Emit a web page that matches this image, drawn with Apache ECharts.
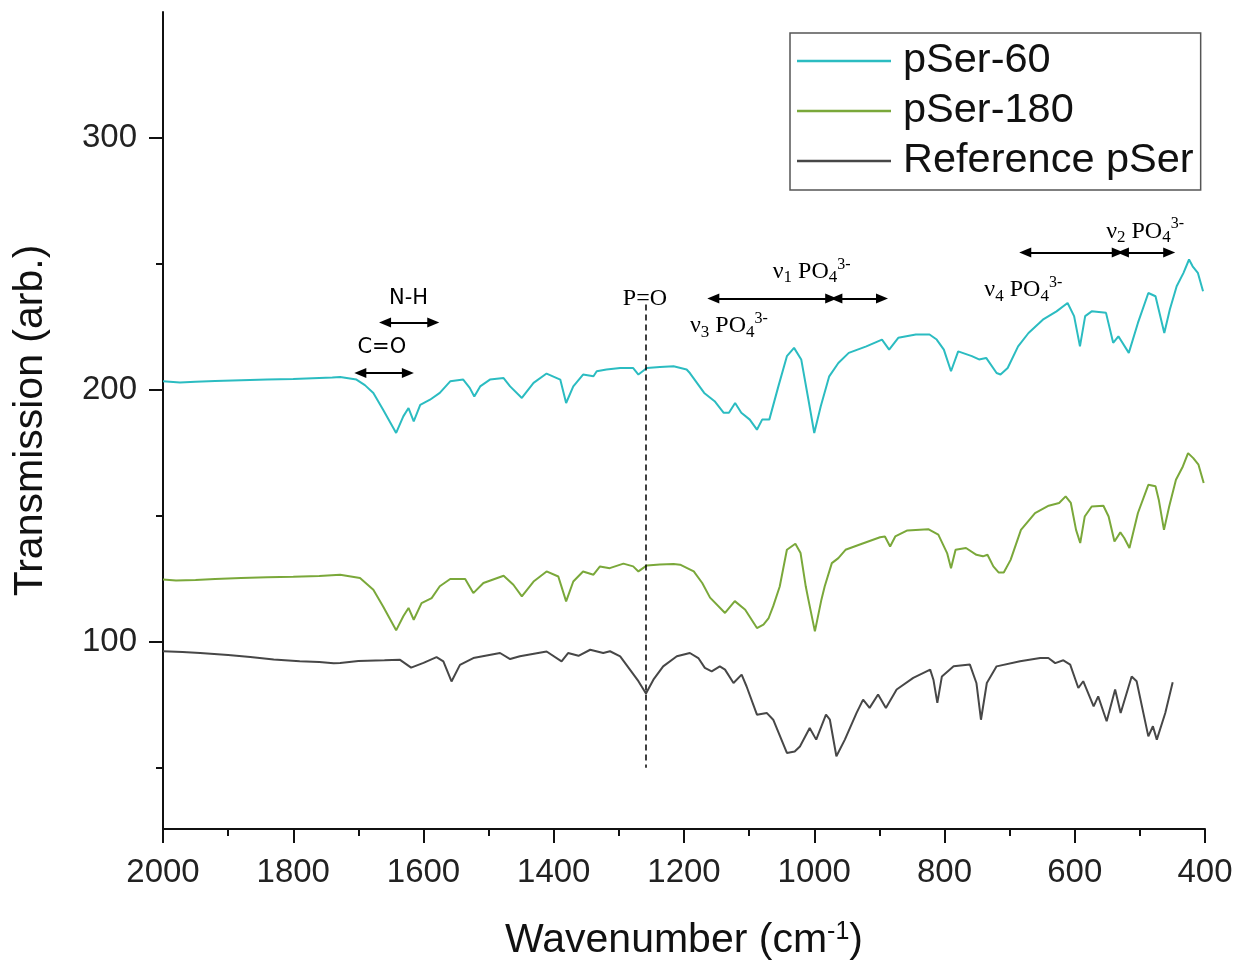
<!DOCTYPE html>
<html>
<head>
<meta charset="utf-8">
<title>FTIR pSer</title>
<script src="https://cdn.jsdelivr.net/npm/echarts@6/dist/echarts.min.js"></script>
<style>
  html, body { margin: 0; padding: 0; background: #fff; }
  #chart { width: 1243px; height: 962px; }
</style>
</head>
<body>
<div id="chart"></div>
<script>
// spectra: [wavenumber (cm-1), transmission (arb.)]
const pSer60 = [
  [2000, 203.3], [1974, 202.8], [1950, 203.1], [1920, 203.4], [1880, 203.7], [1840, 204.0],
  [1800, 204.2], [1760, 204.6], [1740, 204.8], [1728, 205.0], [1703, 204.0], [1690, 201.8],
  [1677, 198.7], [1662, 192.0], [1642, 182.8], [1631, 189.4], [1623, 192.7], [1615, 187.4],
  [1605, 194.0], [1590, 196.0], [1575, 198.7], [1559, 203.3], [1539, 204.0], [1529, 200.7],
  [1522, 197.3], [1513, 201.3], [1498, 204.0], [1477, 204.6], [1467, 201.3], [1449, 196.7],
  [1431, 202.7], [1411, 206.4], [1390, 204.0], [1381, 194.7], [1370, 201.3], [1355, 206.0],
  [1339, 205.3], [1334, 207.3], [1319, 208.0], [1298, 208.6], [1278, 208.6], [1270, 206.0],
  [1257, 208.6], [1237, 209.0], [1216, 209.3], [1196, 208.0], [1191, 206.6], [1169, 198.7],
  [1153, 195.4], [1139, 190.8], [1131, 190.8], [1121.5, 194.7], [1112, 190.8], [1099, 188.1],
  [1088, 184.1], [1080, 188.1], [1069, 188.1], [1055, 201.4], [1042, 213.3], [1031, 216.6],
  [1020, 212.0], [1009, 196.1], [1000, 182.8], [990, 193.4], [977, 205.3], [963, 210.6],
  [947, 214.6], [920, 217.2], [896, 219.9], [885, 215.9], [871, 220.6], [844, 221.9],
  [823, 221.9], [812, 219.9], [801, 215.9], [790, 207.3], [779, 215.2], [758, 213.3],
  [747, 212.0], [736, 212.6], [720, 206.6], [714, 206.0], [703, 208.6], [687, 217.2],
  [671, 222.5], [649, 227.8], [628, 231.1], [611, 234.4], [601, 229.2], [592, 217.2],
  [584, 229.2], [574, 231.1], [552, 230.5], [541, 218.6], [533, 221.2], [517, 214.6],
  [503, 226.5], [487, 238.4], [476, 237.1], [462.5, 222.5], [454, 231.8], [443.5, 241.1],
  [433, 246.4], [424.5, 251.7], [419, 249.0], [411, 246.4], [403, 239.1]
];

const pSer180 = [
  [2000, 124.6], [1980, 124.2], [1950, 124.4], [1920, 124.8], [1880, 125.2], [1840, 125.5],
  [1800, 125.7], [1760, 126.0], [1728, 126.5], [1697.5, 125.2], [1677, 120.5], [1662, 113.9],
  [1642, 104.4], [1631, 110.0], [1623, 113.3], [1615, 108.6], [1603, 115.2], [1587.5, 117.2],
  [1575, 121.9], [1559, 124.8], [1536, 124.8], [1523.5, 119.2], [1508, 123.2], [1477, 126.1],
  [1462, 122.5], [1449, 117.9], [1431, 123.8], [1411, 127.8], [1393, 125.8], [1381, 115.9],
  [1370, 123.8], [1355, 127.8], [1339, 126.5], [1329, 129.8], [1314, 129.1], [1293, 130.9],
  [1278, 129.8], [1270, 127.8], [1257, 130.2], [1237, 130.6], [1216, 130.8], [1206, 130.5],
  [1185, 127.8], [1172, 123.2], [1160, 117.4], [1137, 111.3], [1122, 116.0], [1106, 112.6],
  [1088, 105.3], [1078, 106.7], [1070, 109.3], [1063, 114.0], [1053, 121.8], [1042, 136.4],
  [1029, 138.8], [1021, 135.1], [1013, 121.8], [1009, 116.6], [999, 104.0], [989, 116.6],
  [984, 121.8], [973, 131.1], [963, 133.1], [952, 136.4], [931, 138.4], [899, 141.4],
  [891.5, 141.7], [883.5, 137.7], [875.6, 141.7], [857, 144.1], [825, 144.6], [809.5, 142.4],
  [796, 135.1], [790, 129.1], [783, 136.4], [767, 137.1], [751, 134.4], [741, 133.8],
  [734, 134.4], [725, 129.8], [717, 127.4], [709, 127.4], [698.5, 132.4], [682.6, 144.3],
  [661, 151.0], [640, 153.9], [624, 155.0], [614, 157.6], [606, 155.0], [598, 144.3],
  [591.6, 139.1], [584.7, 149.6], [574, 153.6], [556, 153.9], [548, 149.6], [539, 139.7],
  [530, 143.3], [524, 141.1], [516, 137.1], [503, 151.0], [487, 162.2], [476, 161.6],
  [471, 156.3], [463, 144.3], [455, 153.6], [444.6, 164.2], [434, 169.5], [426, 174.8],
  [418, 172.8], [410, 170.2], [402, 162.9]
];

const refPSer = [
  [2000, 96.1], [1970, 95.8], [1943, 95.4], [1900, 94.6], [1866, 93.8], [1830, 92.8],
  [1790, 92.1], [1760, 91.8], [1738, 91.3], [1728, 91.4], [1700, 92.2], [1660, 92.5],
  [1636, 92.7], [1619, 89.6], [1600, 91.5], [1580, 93.8], [1569.5, 92.1], [1557, 84.1],
  [1544, 90.7], [1523.5, 93.4], [1482.5, 95.4], [1467, 93.0], [1452, 94.1], [1411, 96.0],
  [1388, 92.1], [1378, 95.4], [1362, 94.3], [1344, 96.7], [1324, 95.4], [1313.6, 96.1],
  [1298, 94.1], [1283, 88.8], [1270, 84.2], [1258.4, 79.3], [1247, 84.8], [1232, 90.1],
  [1211, 94.1], [1191, 95.4], [1178, 93.4], [1168, 89.5], [1157.5, 88.1], [1145, 90.1],
  [1137, 88.8], [1124, 83.5], [1111.5, 86.8], [1104, 82.2], [1088, 70.9], [1073, 71.6],
  [1063, 68.9], [1042, 55.7], [1030, 56.3], [1022, 58.3], [1007, 65.6], [997, 61.0],
  [982, 70.9], [976, 68.9], [966, 54.4], [953, 61.0], [935, 71.6], [925, 76.9],
  [915, 73.6], [902, 78.9], [890, 73.6], [873.5, 80.9], [848, 85.5], [822, 88.8],
  [817, 84.8], [811, 75.6], [804, 86.1], [786, 90.1], [761, 90.8], [751, 83.5],
  [744, 68.9], [735, 83.5], [720, 90.1], [684, 92.1], [653, 93.4], [640.5, 93.4],
  [630, 91.4], [617.5, 92.5], [607, 90.8], [594.5, 81.5], [587, 84.2], [571, 74.2],
  [564, 78.2], [551, 68.3], [538, 80.9], [529.5, 71.6], [512.6, 86.1], [505, 84.2],
  [487, 62.3], [480, 66.3], [474, 61.0], [461, 71.6], [449.6, 83.8]
];

const seriesNames = ["pSer-60", "pSer-180", "Reference pSer"];
const yTickValues = [100, 200, 300];

// band annotations: double arrows [from, to, level] in data units
const bandArrows = [
  [1697, 1624, 206.6],   // C=O
  [1659, 1585, 226.7],   // N-H
  [1155, 974, 236.2],    // v3
  [966, 896, 236.2],     // v1
  [676, 534, 254.5],     // v4
  [526, 455, 254.5]      // v2
];
// P=O marker line: wavenumber, top, bottom
const poLine = [1258, 233.8, 49.8];

// labels: [wavenumber, level, text]
const sansLabels = [
  [1664, 216.9, "C=O"],
  [1623, 236.0, "N-H"]
];
const serifLabels = [
  [1260, 236.2, "P=O"],
  [1131, 225.4, "{n|ν}{sb|3} {n|PO}{sb|4}{sp|3-}"],
  [1004, 247.0, "{n|ν}{sb|1} {n|PO}{sb|4}{sp|3-}"],
  [679, 239.7, "{n|ν}{sb|4} {n|PO}{sb|4}{sp|3-}"],
  [492, 262.9, "{n|ν}{sb|2} {n|PO}{sb|4}{sp|3-}"]
];

const colors = ["#2bbcc1", "#7aa83a", "#474747"];
const SANS = "Liberation Sans, Arial, sans-serif";
const SERIF = "Liberation Serif, Times New Roman, serif";

const chart = echarts.init(document.getElementById("chart"), null, { renderer: "canvas" });

const axisCol = "#111";

const serifRich = {
  n: { fontFamily: SERIF, fontSize: 24, lineHeight: 30, color: "#000" },
  sb: { fontFamily: SERIF, fontSize: 17, lineHeight: 17, verticalAlign: "bottom", color: "#000" },
  sp: { fontFamily: SERIF, fontSize: 16, lineHeight: 16, verticalAlign: "top", color: "#000" }
};

const markLineData = bandArrows.map(([a, b, y]) => [
  { coord: [a, y] },
  { coord: [b, y] }
]);
markLineData.push([
  { coord: [poLine[0], poLine[1]], symbol: "none", lineStyle: { type: [6, 4], width: 1.5, color: "#000" } },
  { coord: [poLine[0], poLine[2]], symbol: "none" }
]);

const markPointData = sansLabels
  .map(([x, y, t]) => ({
    coord: [x, y],
    label: { formatter: t, fontFamily: "DejaVu Sans", fontSize: 21, color: "#000" }
  }))
  .concat(serifLabels.map(([x, y, t]) => ({
    coord: [x, y],
    label: { formatter: t, fontFamily: SERIF, fontSize: 24, color: "#000", rich: serifRich }
  })));

const option = {
  animation: false,
  backgroundColor: "#fff",
  color: colors,
  grid: { left: 163, right: 38, top: 12, bottom: 133, containLabel: false, outerBoundsMode: "none" },
  legend: {
    data: seriesNames,
    orient: "vertical",
    left: 790,
    top: 33,
    padding: [3, 7, 4, 7],
    itemGap: 0,
    itemWidth: 94,
    itemHeight: 2.5,
    icon: "rect",
    borderColor: "#555",
    borderWidth: 1.5,
    textStyle: { fontFamily: SANS, fontSize: 41.5, color: "#111", lineHeight: 50, padding: [0, 0, 0, 7] }
  },
  xAxis: {
    type: "value",
    inverse: true,
    min: 400,
    max: 2000,
    interval: 200,
    name: "Wavenumber (cm{sup|-1})",
    nameLocation: "middle",
    nameGap: 91,
    nameTextStyle: {
      fontFamily: SANS, fontSize: 41, color: "#111",
      rich: { sup: { fontFamily: SANS, fontSize: 25, lineHeight: 25, verticalAlign: "top", color: "#111" } }
    },
    axisLine: { show: true, lineStyle: { color: axisCol, width: 2 } },
    axisTick: { show: true, length: 14, lineStyle: { color: axisCol, width: 2 } },
    minorTick: { show: true, splitNumber: 2, length: 7, lineStyle: { color: axisCol, width: 2 } },
    axisLabel: {
      fontFamily: SANS, fontSize: 33, color: "#222", margin: 27,
      formatter: (v) => String(v)
    },
    splitLine: { show: false }
  },
  yAxis: {
    type: "value",
    min: 25.5,
    max: 350,
    splitNumber: 3,
    minInterval: 100,
    maxInterval: 100,
    name: "Transmission (arb.)",
    nameLocation: "middle",
    nameGap: 112,
    nameTextStyle: { fontFamily: SANS, fontSize: 41, color: "#111" },
    axisLine: { show: true, lineStyle: { color: axisCol, width: 2 } },
    axisTick: { show: true, length: 14, customValues: yTickValues, lineStyle: { color: axisCol, width: 2 } },
    minorTick: { show: true, splitNumber: 2, length: 7, lineStyle: { color: axisCol, width: 2 } },
    axisLabel: { fontFamily: SANS, fontSize: 33, color: "#222", margin: 26, customValues: yTickValues },
    splitLine: { show: false }
  },
  series: [
    {
      name: seriesNames[0],
      type: "line",
      data: pSer60,
      symbol: "none",
      lineStyle: { width: 2, color: colors[0] },
      z: 3,
      markLine: {
        silent: true,
        symbol: ["triangle", "triangle"],
        symbolSize: [10, 12],
        label: { show: false },
        lineStyle: { color: "#000", width: 2, type: "solid" },
        data: markLineData
      },
      markPoint: {
        silent: true,
        symbol: "circle",
        symbolSize: 1,
        itemStyle: { color: "rgba(0,0,0,0)" },
        label: { show: true, position: "inside" },
        data: markPointData
      }
    },
    {
      name: seriesNames[1],
      type: "line",
      data: pSer180,
      symbol: "none",
      lineStyle: { width: 2, color: colors[1] },
      z: 3
    },
    {
      name: seriesNames[2],
      type: "line",
      data: refPSer,
      symbol: "none",
      lineStyle: { width: 2, color: colors[2] },
      z: 3
    }
  ]
};

chart.setOption(option);
</script>
</body>
</html>
